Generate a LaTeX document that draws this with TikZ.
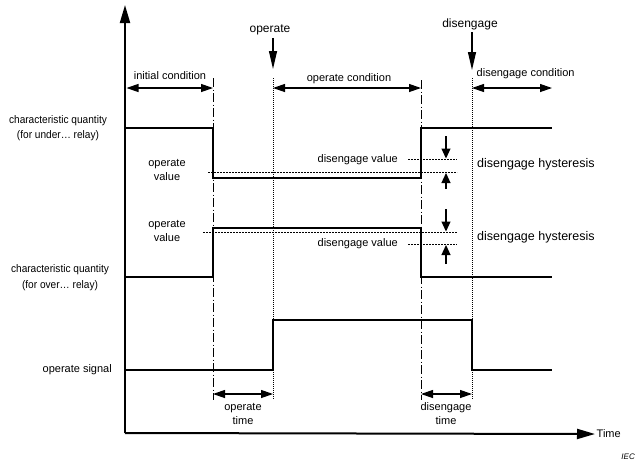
\documentclass[tikz,border=0pt]{standalone}
\usepackage{fontspec}
\setmainfont{Liberation Sans}
\newfontfamily\narrowfont[FakeStretch=0.92]{Liberation Sans}
\usetikzlibrary{arrows.meta}
\tikzset{
	sig/.style={line width=2pt},
	axis/.style={line width=2pt,-{Triangle[length=18pt,width=10pt]}},
	dimarr/.style={line width=1.2pt,{Triangle[length=12pt,width=8pt]}-{Triangle[length=12pt,width=8pt]}},
	ptr/.style={line width=1.2pt,-{Triangle[length=18pt,width=8pt]}},
	hyst/.style={line width=1.2pt,-{Triangle[length=10pt,width=9pt]}},
	dashdot/.style={line width=0.7pt,dash pattern=on 9pt off 2.5pt on 1pt off 2.5pt},
	dotline/.style={line width=0.7pt,dash pattern=on 1pt off 1pt},
	thresh/.style={line width=0.7pt,dash pattern=on 2pt off 1pt},
	lbl/.style={inner sep=0pt,align=center,font=\fontsize{11}{14}\selectfont},
	qlbl/.style={lbl,font=\narrowfont\fontsize{11}{15.5}\selectfont},
}
\begin{document}
\begin{tikzpicture}[x=1pt,y=-1pt]
	\useasboundingbox (0,0) rectangle (641,467);
	% axes
	\coordinate (O) at (125,433);
	\node[lbl,anchor=west,inner sep=1.5pt] (time) at (595,434) {Time};
	\draw[axis] (O) -- (125,5);
	\draw[axis] (O) -- (time.west);
	\node[anchor=east,inner sep=0pt,font=\itshape\fontsize{8}{9}\selectfont] (iec) at (635,457) {IEC};
	% time marks
	\foreach \n/\x/\s/\y in {1/213/dashdot/78,2/273/dotline/78,3/421/dashdot/80,4/472/dotline/78}{
		\draw[\s] (\x,\y) -- (\x,400);
		\coordinate (top\n) at (\x,88);
		\coordinate (bot\n) at (\x,394);
	}
	\coordinate (top0) at (126.5,88);
	\coordinate (top5) at (552,88);
	% signals
	\draw[sig] (125,128) -| (213,178) -| (421,128) -- (552,128);
	\draw[sig] (125,277) -| (213,228) -| (421,277) -- (552,277);
	\draw[sig] (125,370) -| (273,320) -| (472,370) -- (552,370);
	% threshold values
	\draw[thresh] (208,172) -- (457,172);
	\draw[thresh] (408,159.5) -- (457,159.5);
	\draw[thresh] (203,232.5) -- (457,232.5);
	\draw[thresh] (408,244) -- (457,244);
	\draw[hyst] (446,136) -- (446,158.5);
	\draw[hyst] (446,189) -- (446,173);
	\draw[hyst] (446,209) -- (446,231.5);
	\draw[hyst] (446,264) -- (446,245);
	% conditions
	\node[lbl] (initc) at (170,76) {initial condition};
	\node[lbl] (opc) at (349,79) {operate condition};
	\node[lbl,anchor=west] (disc) at (476.5,74) {disengage condition};
	\draw[dimarr] (top0) -- (top1);
	\draw[dimarr] (top2) -- (top3);
	\draw[dimarr] (top4) -- (top5);
	\node[lbl,font=\fontsize{12}{14}\selectfont] (op) at (270,30) {operate};
	\node[lbl,font=\fontsize{12}{14}\selectfont] (dis) at (470,24) {disengage};
	\coordinate (opend) at (273,69);
	\coordinate (disend) at (472,70);
	\draw[ptr] (op.south -| opend) ++(0,2.5) -- (opend);
	\draw[ptr] (dis.south -| disend) ++(0,2.5) -- (disend);
	% times
	\draw[dimarr] (bot1) -- (bot2);
	\draw[dimarr] (bot3) -- (bot4);
	\node[lbl] (opt) at (243,414) {operate\\time};
	\node[lbl] (dist) at (446,414) {disengage\\time};
	% left labels
	\node[qlbl] (under) at (58,128) {characteristic quantity\\(for under\dots\ relay)};
	\node[qlbl] (over) at (60,277.5) {characteristic quantity\\(for over\dots\ relay)};
	\node[lbl,anchor=east] (opsig) at (112,370) {operate signal};
	% value labels
	\node[lbl] (uop) at (167,170) {operate\\value};
	\node[lbl] (oop) at (167,231) {operate\\value};
	\node[lbl,anchor=east] (udis) at (398,159.5) {disengage value};
	\node[lbl,anchor=east] (odis) at (398,243.5) {disengage value};
	\node[lbl,anchor=west,font=\fontsize{12.5}{14}\selectfont] (uhys) at (477,164) {disengage hysteresis};
	\node[lbl,anchor=west,font=\fontsize{12.5}{14}\selectfont] (ohys) at (477,237) {disengage hysteresis};
\end{tikzpicture}
\end{document}
